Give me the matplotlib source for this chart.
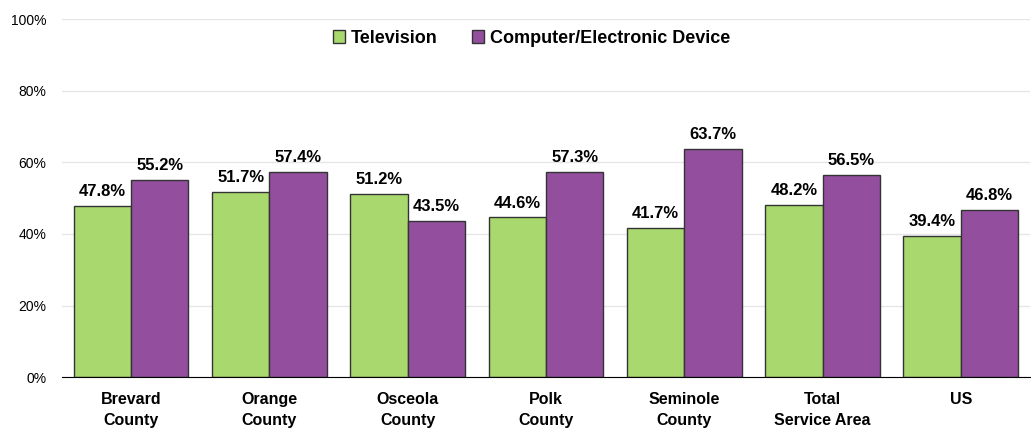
import matplotlib.pyplot as plt
import numpy as np
from matplotlib import font_manager
from matplotlib.ticker import PercentFormatter

categories = ["Brevard\nCounty", "Orange\nCounty", "Osceola\nCounty", "Polk\nCounty",
              "Seminole\nCounty", "Total\nService Area", "US"]
television = [47.8, 51.7, 51.2, 44.6, 41.7, 48.2, 39.4]
computer = [55.2, 57.4, 43.5, 57.3, 63.7, 56.5, 46.8]

names = {f.name for f in font_manager.fontManager.ttflist}
font = "Liberation Sans Narrow" if "Liberation Sans Narrow" in names else "Liberation Sans"
plt.rcParams["font.family"] = [font, "DejaVu Sans"]

fig = plt.figure(figsize=(10.31, 4.34), dpi=100)
ax = fig.add_axes([0.060, 0.131, 0.939, 0.825])

x = np.arange(len(categories))
w = 0.415
b1 = ax.bar(x - w / 2, television, w, color="#A9D86E", edgecolor="#333333", linewidth=1, label="Television")
b2 = ax.bar(x + w / 2, computer, w, color="#934F9E", edgecolor="#333333", linewidth=1,
            label="Computer/Electronic Device")
for bars in (b1, b2):
    ax.bar_label(bars, labels=[f"{v:.1f}%" for v in bars.datavalues], padding=5,
                 fontsize=12, fontweight="bold")

ax.set_ylim(0, 100)
ax.set_xlim(-0.5, len(categories) - 0.5)
ax.set_yticks(np.arange(0, 101, 20))
ax.yaxis.set_major_formatter(PercentFormatter(decimals=0))
ax.set_xticks(x)
ax.set_xticklabels(categories, fontsize=11.5, fontweight="bold", linespacing=1.45)
ax.tick_params(axis="y", length=0, labelsize=10, pad=11)
ax.tick_params(axis="x", length=0, pad=11)
ax.grid(axis="y", color="#e6e6e6", linewidth=1)
ax.set_axisbelow(True)
for s in ("top", "right", "left"):
    ax.spines[s].set_visible(False)
ax.spines["bottom"].set_color("black")

ax.legend(loc="center", bbox_to_anchor=(0.485, 0.947), ncol=2, frameon=False,
          prop={"size": 13, "weight": "bold"}, handlelength=0.7, handleheight=0.7,
          handletextpad=0.3, columnspacing=1.9)

fig.savefig("out.png", dpi=100)
